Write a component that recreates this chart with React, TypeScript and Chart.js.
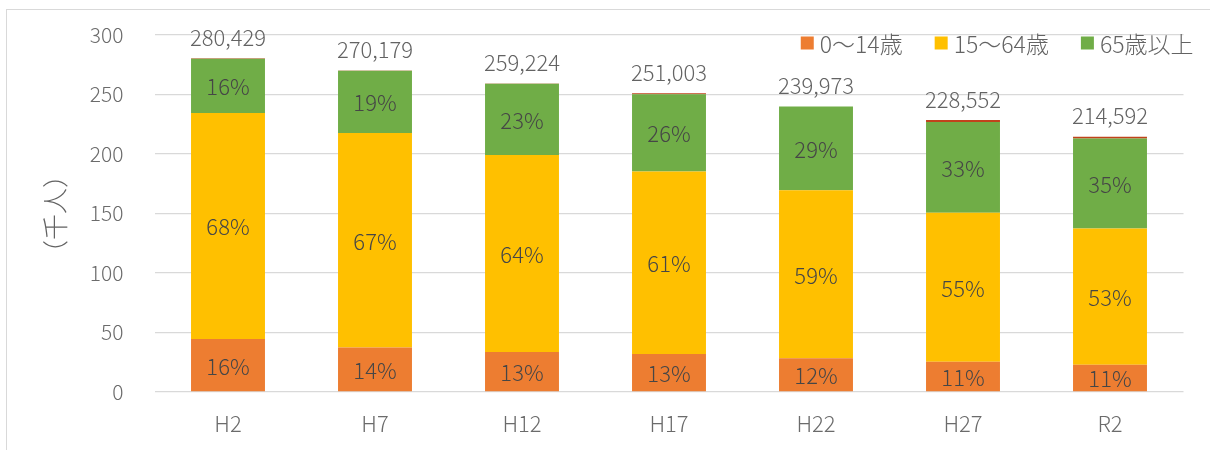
import React, { useEffect, useRef } from "react";
import { Chart, registerables } from "chart.js";

Chart.register(...registerables);

const FONT = "'Noto Sans CJK JP', 'Noto Sans', sans-serif";

const categories = ["H2", "H7", "H12", "H17", "H22", "H27", "R2"];
// values in thousands of people
const age0to14 = [44.5, 37.3, 33.6, 32.0, 28.4, 25.4, 23.0];
const age15to64 = [190.0, 180.3, 165.6, 153.3, 141.2, 125.2, 114.5];
const age65plus = [45.6, 52.4, 59.9, 65.0, 70.3, 76.3, 75.5];
const ageUnknown = [0.3, 0.2, 0.1, 0.7, 0.1, 1.6, 1.6];
// total population (people)
const totals = [280429, 270179, 259224, 251003, 239973, 228552, 214592];

const seriesLabels = ["0〜14歳", "15〜64歳", "65歳以上", "不詳"];
const seriesColors = ["#ED7D31", "#FFC000", "#70AD47", "#C0431B"];
const yAxisTitle = "（千人）";
const yMin = 0;
const yMax = 300;
const yStep = 50;

const labelPlugin = {
  id: "customLabels",
  afterDatasetsDraw(chart: any) {
    const ctx = chart.ctx as CanvasRenderingContext2D;
    ctx.save();
    // percentage labels inside segments
    ctx.font = `300 22px ${FONT}`;
    ctx.fillStyle = "#464646";
    ctx.textAlign = "center";
    ctx.textBaseline = "middle";
    for (let d = 0; d < 3; d++) {
      const meta = chart.getDatasetMeta(d);
      meta.data.forEach((bar: any, i: number) => {
        const { x, y, base } = bar.getProps(["x", "y", "base"], true);
        const v = chart.data.datasets[d].data[i] as number;
        const pct = Math.round(((v * 1000) / totals[i]) * 100);
        ctx.fillText(pct + "%", x, (y + base) / 2 + 1);
      });
    }
    // totals above bars
    const topMeta = chart.getDatasetMeta(3);
    ctx.fillStyle = "#636363";
    ctx.textBaseline = "alphabetic";
    topMeta.data.forEach((bar: any, i: number) => {
      const { x, y } = bar.getProps(["x", "y"], true);
      ctx.fillText(totals[i].toLocaleString("en-US"), x, y - 12.5);
    });

    // legend (first three series), right aligned at top of plot
    ctx.font = `300 23px ${FONT}`;
    const box = 13;
    const gapBoxText = 6;
    const gapItems = 32;
    const items = [0, 1, 2].map((k) => ({
      label: seriesLabels[k],
      color: seriesColors[k],
      w: ctx.measureText(seriesLabels[k]).width,
    }));
    const totalW =
      items.reduce((s, it) => s + box + gapBoxText + it.w, 0) +
      gapItems * (items.length - 1);
    let lx = chart.chartArea.right + 10 - totalW;
    const ly = chart.chartArea.top + 8;
    ctx.textAlign = "left";
    ctx.textBaseline = "middle";
    items.forEach((it) => {
      ctx.fillStyle = it.color;
      ctx.fillRect(lx, ly - box / 2, box, box);
      ctx.fillStyle = "#636363";
      ctx.fillText(it.label, lx + box + gapBoxText, ly + 1);
      lx += box + gapBoxText + it.w + gapItems;
    });

    // y axis title
    ctx.save();
    ctx.translate(55, (chart.chartArea.top + chart.chartArea.bottom) / 2 + 0.5);
    ctx.rotate(-Math.PI / 2);
    ctx.font = `300 26px ${FONT}`;
    ctx.fillStyle = "#636363";
    ctx.textAlign = "center";
    ctx.textBaseline = "middle";
    ctx.fillText(yAxisTitle, 0, 0);
    ctx.restore();

    ctx.restore();
  },
};

export default function App() {
  const canvasRef = useRef<HTMLCanvasElement | null>(null);

  useEffect(() => {
    if (!canvasRef.current) return;
    const seriesData = [age0to14, age15to64, age65plus, ageUnknown];
    const chart = new Chart(canvasRef.current, {
      type: "bar",
      data: {
        labels: categories,
        datasets: seriesData.map((d, k) => ({
          label: seriesLabels[k],
          data: d,
          backgroundColor: seriesColors[k],
          borderWidth: 0,
          barPercentage: 0.503,
          categoryPercentage: 1,
        })),
      },
      options: {
        animation: false,
        responsive: false,
        maintainAspectRatio: false,
        layout: { padding: { left: 0, right: 26.5, top: 35, bottom: 0 } },
        plugins: {
          legend: { display: false },
          tooltip: { enabled: false },
          title: { display: false },
        },
        scales: {
          x: {
            stacked: true,
            grid: { display: false, drawTicks: false },
            border: { display: false },
            ticks: {
              color: "#6b6b6b",
              font: { family: FONT, size: 22, weight: "300" as any },
              padding: 18,
            },
            afterFit: (scale: any) => {
              scale.height = 58;
              scale.paddingLeft = 0;
              scale.paddingRight = 0;
            },
          },
          y: {
            stacked: true,
            min: yMin,
            max: yMax,
            grid: { color: "#d9d9d9", lineWidth: 1.3, drawTicks: false },
            border: { display: false },
            ticks: {
              stepSize: yStep,
              color: "#6b6b6b",
              font: { family: FONT, size: 21, weight: "300" as any },
              padding: 31,
            },
            afterFit: (scale: any) => {
              scale.width = 154.5;
              scale.paddingTop = 0;
              scale.paddingBottom = 0;
            },
          },
        },
      },
      plugins: [labelPlugin],
    });
    return () => chart.destroy();
  }, []);

  return (
    <div
      style={{
        position: "fixed",
        left: 0,
        top: 0,
        width: 1210,
        height: 450,
        overflow: "hidden",
        background: "#ffffff",
      }}
    >
      <div
        style={{
          position: "absolute",
          left: 6,
          top: 9,
          width: 1240,
          height: 480,
          border: "1px solid #d9d9d9",
          boxSizing: "border-box",
        }}
      />
      <canvas
        ref={canvasRef}
        width={1210}
        height={450}
        style={{ position: "absolute", left: 0, top: 0, width: 1210, height: 450 }}
      />
    </div>
  );
}
